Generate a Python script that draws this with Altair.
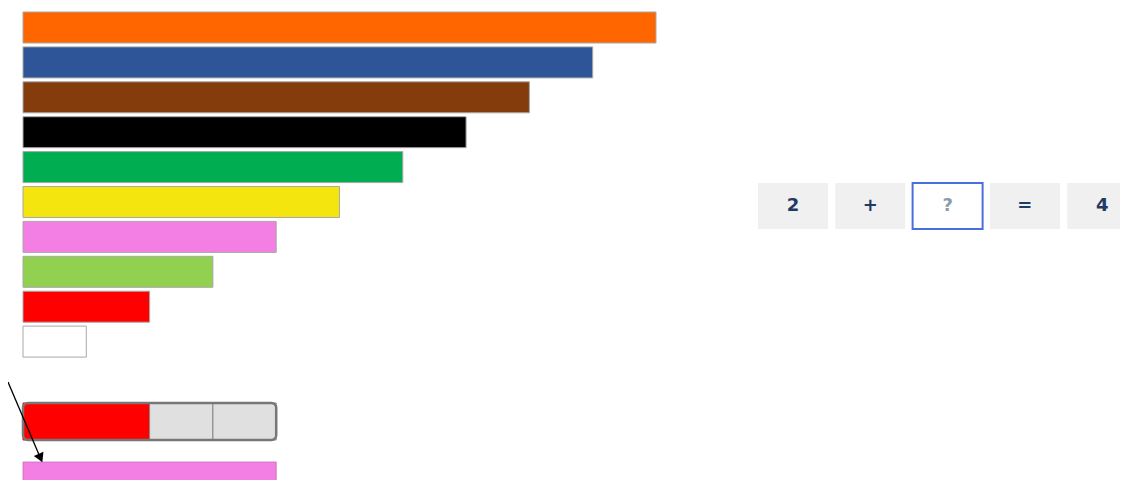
import altair as alt
import pandas as pd

# ---- data ----
rod_lengths = [10, 9, 8, 7, 6, 5, 4, 3, 2, 1]
rod_colors = ["#FF6600", "#2E5597", "#843C0C", "#000000", "#00AD50",
              "#F5E50F", "#F47FE4", "#92D050", "#FF0000", "#FFFFFF"]
strip_cells = [2, 1, 1]
strip_colors = ["#FF0000", "#E0E0E0", "#E0E0E0"]
answer_length = 4
answer_color = "#F47FE4"
equation_tokens = ["2", "+", "?", "=", "4"]
equation_fills = ["#F0F0F0", "#F0F0F0", "#FFFFFF", "#F0F0F0", "#F0F0F0"]
equation_text_colors = ["#1F3A63", "#1F3A63", "#8A9BB0", "#1F3A63", "#1F3A63"]

# ---- layout helpers (pixel -> data units) ----
PX_U, PX_R = 63.3, 34.9
X0, Y0 = 23, 12


def ux(px):
    return (px - X0) / PX_U


def ry(py):
    return (py - Y0) / PX_R


W, H = 1112, 472
xs = alt.Scale(domain=[ux(8), ux(8 + W)], nice=False, zero=False)
ys = alt.Scale(domain=[ry(8), ry(8 + H)], reverse=True, nice=False, zero=False)

ROD_H = 31 / PX_R

rods = pd.DataFrame({
    "row": list(range(len(rod_lengths))),
    "start": [0] * len(rod_lengths),
    "length": rod_lengths,
    "color": rod_colors,
})
rods["row2"] = rods["row"] + ROD_H

rod_layer = alt.Chart(rods).mark_rect(stroke="#A8A8A8", strokeWidth=1).encode(
    x=alt.X("start:Q", scale=xs, axis=None),
    x2="length:Q",
    y=alt.Y("row:Q", scale=ys, axis=None),
    y2="row2:Q",
    fill=alt.Fill("color:N", scale=None),
)

# strip (2 red + 2 grey)
starts, acc = [], 0
for c in strip_cells:
    starts.append(acc)
    acc += c
strip = pd.DataFrame({
    "s": starts,
    "e": [s + c for s, c in zip(starts, strip_cells)],
    "color": strip_colors,
    "stroke": ["#FF0000", "#888888", "#888888"],
})
strip["y"] = ry(403)
strip["y2"] = ry(440)
strip_layer = alt.Chart(strip).mark_rect(strokeWidth=1).encode(
    x=alt.X("s:Q", scale=xs, axis=None), x2="e:Q",
    y=alt.Y("y:Q", scale=ys, axis=None), y2="y2:Q",
    fill=alt.Fill("color:N", scale=None),
    stroke=alt.Stroke("stroke:N", scale=None),
)
outline = pd.DataFrame({"s": [0], "e": [sum(strip_cells)], "y": [ry(403)], "y2": [ry(440)]})
outline_layer = alt.Chart(outline).mark_rect(
    filled=False, stroke="#777777", strokeWidth=2.5, cornerRadius=5
).encode(
    x=alt.X("s:Q", scale=xs, axis=None), x2="e:Q",
    y=alt.Y("y:Q", scale=ys, axis=None), y2="y2:Q",
)

answer = pd.DataFrame({"s": [0], "e": [answer_length], "color": [answer_color],
                       "y": [ry(462)], "y2": [ry(500)]})
answer_layer = alt.Chart(answer).mark_rect(stroke="#C070B8", strokeWidth=0.8, clip=True).encode(
    x=alt.X("s:Q", scale=xs, axis=None), x2="e:Q",
    y=alt.Y("y:Q", scale=ys, axis=None), y2="y2:Q",
    fill=alt.Fill("color:N", scale=None),
)

# arrow
arrow = pd.DataFrame({"x": [ux(8)], "y": [ry(382)], "x2": [ux(40)], "y2": [ry(457)]})
arrow_line = alt.Chart(arrow).mark_rule(color="#000000", strokeWidth=1.3).encode(
    x=alt.X("x:Q", scale=xs, axis=None), x2="x2:Q",
    y=alt.Y("y:Q", scale=ys, axis=None), y2="y2:Q",
)
head = pd.DataFrame({"x": [ux(40.5)], "y": [ry(458)]})
arrow_head = alt.Chart(head).mark_point(
    shape="triangle-up", filled=True, color="#000000", size=110, angle=156, opacity=1
).encode(
    x=alt.X("x:Q", scale=xs, axis=None),
    y=alt.Y("y:Q", scale=ys, axis=None),
)

# equation boxes
BOX_PITCH, BOX_W = 77.3, 70
eq = pd.DataFrame({
    "tok": equation_tokens,
    "fill": equation_fills,
    "tcolor": equation_text_colors,
    "k": list(range(len(equation_tokens))),
})
eq["x"] = [ux(758 + BOX_PITCH * k) for k in eq["k"]]
eq["x2"] = [ux(758 + BOX_PITCH * k + BOX_W) for k in eq["k"]]
eq["xc"] = (eq["x"] + eq["x2"]) / 2
eq["y"] = ry(183)
eq["y2"] = ry(229)
eq["yc"] = ry(206)
eq["stroke"] = ["#F0F0F0", "#F0F0F0", "#4A6FDC", "#F0F0F0", "#F0F0F0"]
eq["sw"] = [0, 0, 2, 0, 0]

box_layer = alt.Chart(eq).mark_rect(clip=True).encode(
    x=alt.X("x:Q", scale=xs, axis=None), x2="x2:Q",
    y=alt.Y("y:Q", scale=ys, axis=None), y2="y2:Q",
    fill=alt.Fill("fill:N", scale=None),
    stroke=alt.Stroke("stroke:N", scale=None),
    strokeWidth=alt.StrokeWidth("sw:Q", scale=None),
)
text_layer = alt.Chart(eq).mark_text(
    font="DejaVu Sans", fontWeight="bold", fontSize=18, baseline="middle", align="center"
).encode(
    x=alt.X("xc:Q", scale=xs, axis=None),
    y=alt.Y("yc:Q", scale=ys, axis=None),
    text="tok:N",
    color=alt.Color("tcolor:N", scale=None),
)

chart = alt.layer(
    rod_layer, strip_layer, outline_layer, answer_layer, arrow_line, arrow_head,
    box_layer, text_layer
).properties(
    width=W, height=H, padding=0, autosize="none", background="#FFFFFF"
).configure_view(stroke=None)

chart.save("out.html", embed_options={"renderer": "svg", "actions": False})
